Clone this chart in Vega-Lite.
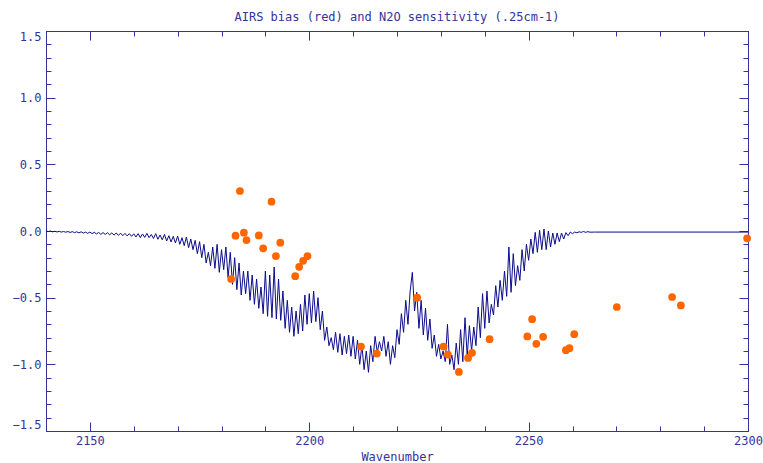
{
  "$schema": "https://vega.github.io/schema/vega-lite/v6.json",
  "width": 702,
  "height": 400,
  "autosize": "none",
  "padding": {"left": 46, "top": 31, "right": 15, "bottom": 32},
  "background": "white",
  "title": {
    "text": "AIRS bias (red) and N2O sensitivity (.25cm-1)",
    "font": "DejaVu Sans Mono",
    "fontSize": 12,
    "fontWeight": "normal",
    "color": "#33339a",
    "anchor": "middle",
    "offset": 6
  },
  "datasets": {
    "n2o": [
      {"wn": 2140.0, "s": 0.0}, {"wn": 2140.5, "s": -0.004}, {"wn": 2141.0, "s": 0.0}, {"wn": 2141.5, "s": -0.006},
      {"wn": 2142.0, "s": -0.002}, {"wn": 2142.5, "s": -0.007}, {"wn": 2143.0, "s": -0.003}, {"wn": 2143.5, "s": -0.008},
      {"wn": 2144.0, "s": -0.004}, {"wn": 2144.5, "s": -0.009}, {"wn": 2145.0, "s": -0.004}, {"wn": 2145.5, "s": -0.011},
      {"wn": 2146.0, "s": -0.005}, {"wn": 2146.5, "s": -0.012}, {"wn": 2147.0, "s": -0.006}, {"wn": 2147.5, "s": -0.014},
      {"wn": 2148.0, "s": -0.006}, {"wn": 2148.5, "s": -0.016}, {"wn": 2149.0, "s": -0.008}, {"wn": 2149.5, "s": -0.018},
      {"wn": 2150.0, "s": -0.008}, {"wn": 2150.5, "s": -0.02}, {"wn": 2151.0, "s": -0.01}, {"wn": 2151.5, "s": -0.022},
      {"wn": 2152.0, "s": -0.011}, {"wn": 2152.5, "s": -0.025}, {"wn": 2153.0, "s": -0.012}, {"wn": 2153.5, "s": -0.026},
      {"wn": 2154.0, "s": -0.013}, {"wn": 2154.5, "s": -0.028}, {"wn": 2155.0, "s": -0.014}, {"wn": 2155.5, "s": -0.031},
      {"wn": 2156.0, "s": -0.015}, {"wn": 2156.5, "s": -0.033}, {"wn": 2157.0, "s": -0.016}, {"wn": 2157.5, "s": -0.035},
      {"wn": 2158.0, "s": -0.018}, {"wn": 2158.5, "s": -0.037}, {"wn": 2159.0, "s": -0.02}, {"wn": 2159.5, "s": -0.04},
      {"wn": 2160.0, "s": -0.021}, {"wn": 2160.5, "s": -0.045}, {"wn": 2161.0, "s": -0.02}, {"wn": 2161.5, "s": -0.05},
      {"wn": 2162.0, "s": -0.022}, {"wn": 2162.5, "s": -0.048}, {"wn": 2163.0, "s": -0.018}, {"wn": 2163.5, "s": -0.05},
      {"wn": 2164.0, "s": -0.026}, {"wn": 2164.5, "s": -0.056}, {"wn": 2165.0, "s": -0.02}, {"wn": 2165.5, "s": -0.062},
      {"wn": 2166.0, "s": -0.03}, {"wn": 2166.5, "s": -0.066}, {"wn": 2167.0, "s": -0.025}, {"wn": 2167.5, "s": -0.075},
      {"wn": 2168.0, "s": -0.035}, {"wn": 2168.5, "s": -0.082}, {"wn": 2169.0, "s": -0.04}, {"wn": 2169.5, "s": -0.09},
      {"wn": 2170.0, "s": -0.038}, {"wn": 2170.5, "s": -0.1}, {"wn": 2171.0, "s": -0.05}, {"wn": 2171.5, "s": -0.11},
      {"wn": 2172.0, "s": -0.045}, {"wn": 2172.5, "s": -0.125}, {"wn": 2173.0, "s": -0.06}, {"wn": 2173.5, "s": -0.14},
      {"wn": 2174.0, "s": -0.07}, {"wn": 2174.5, "s": -0.17}, {"wn": 2175.0, "s": -0.08}, {"wn": 2175.5, "s": -0.2},
      {"wn": 2176.0, "s": -0.1}, {"wn": 2176.5, "s": -0.24}, {"wn": 2177.0, "s": -0.16}, {"wn": 2177.5, "s": -0.26},
      {"wn": 2178.0, "s": -0.12}, {"wn": 2178.5, "s": -0.28}, {"wn": 2179.0, "s": -0.1}, {"wn": 2179.5, "s": -0.31},
      {"wn": 2180.0, "s": -0.14}, {"wn": 2180.5, "s": -0.29}, {"wn": 2181.0, "s": -0.12}, {"wn": 2181.5, "s": -0.35},
      {"wn": 2182.0, "s": -0.16}, {"wn": 2182.5, "s": -0.4}, {"wn": 2183.0, "s": -0.2}, {"wn": 2183.5, "s": -0.44},
      {"wn": 2184.0, "s": -0.24}, {"wn": 2184.5, "s": -0.48}, {"wn": 2185.0, "s": -0.3}, {"wn": 2185.5, "s": -0.47},
      {"wn": 2186.0, "s": -0.3}, {"wn": 2186.5, "s": -0.52}, {"wn": 2187.0, "s": -0.33}, {"wn": 2187.5, "s": -0.55},
      {"wn": 2188.0, "s": -0.36}, {"wn": 2188.5, "s": -0.58}, {"wn": 2189.0, "s": -0.42}, {"wn": 2189.5, "s": -0.62},
      {"wn": 2190.0, "s": -0.3}, {"wn": 2190.5, "s": -0.64}, {"wn": 2191.0, "s": -0.33}, {"wn": 2191.5, "s": -0.65},
      {"wn": 2192.0, "s": -0.27}, {"wn": 2192.5, "s": -0.66}, {"wn": 2193.0, "s": -0.36}, {"wn": 2193.5, "s": -0.67},
      {"wn": 2194.0, "s": -0.45}, {"wn": 2194.5, "s": -0.73}, {"wn": 2195.0, "s": -0.52}, {"wn": 2195.5, "s": -0.76},
      {"wn": 2196.0, "s": -0.57}, {"wn": 2196.5, "s": -0.79}, {"wn": 2197.0, "s": -0.6}, {"wn": 2197.5, "s": -0.77},
      {"wn": 2198.0, "s": -0.55}, {"wn": 2198.5, "s": -0.75}, {"wn": 2199.0, "s": -0.48}, {"wn": 2199.5, "s": -0.7},
      {"wn": 2200.0, "s": -0.47}, {"wn": 2200.5, "s": -0.69}, {"wn": 2201.0, "s": -0.45}, {"wn": 2201.5, "s": -0.68},
      {"wn": 2202.0, "s": -0.5}, {"wn": 2202.5, "s": -0.74}, {"wn": 2203.0, "s": -0.6}, {"wn": 2203.5, "s": -0.82},
      {"wn": 2204.0, "s": -0.72}, {"wn": 2204.5, "s": -0.86}, {"wn": 2205.0, "s": -0.8}, {"wn": 2205.5, "s": -0.89},
      {"wn": 2206.0, "s": -0.76}, {"wn": 2206.5, "s": -0.91}, {"wn": 2207.0, "s": -0.77}, {"wn": 2207.5, "s": -0.93},
      {"wn": 2208.0, "s": -0.79}, {"wn": 2208.5, "s": -0.92}, {"wn": 2209.0, "s": -0.78}, {"wn": 2209.5, "s": -0.94},
      {"wn": 2210.0, "s": -0.79}, {"wn": 2210.5, "s": -0.96}, {"wn": 2211.0, "s": -0.82}, {"wn": 2211.5, "s": -1.0},
      {"wn": 2212.0, "s": -0.86}, {"wn": 2212.5, "s": -1.04}, {"wn": 2213.0, "s": -0.9}, {"wn": 2213.5, "s": -1.06},
      {"wn": 2214.0, "s": -0.86}, {"wn": 2214.5, "s": -0.98}, {"wn": 2215.0, "s": -0.79}, {"wn": 2215.5, "s": -0.91},
      {"wn": 2216.0, "s": -0.83}, {"wn": 2216.5, "s": -0.9}, {"wn": 2217.0, "s": -0.79}, {"wn": 2217.5, "s": -0.94},
      {"wn": 2218.0, "s": -0.83}, {"wn": 2218.5, "s": -1.0}, {"wn": 2219.0, "s": -0.86}, {"wn": 2219.5, "s": -0.95},
      {"wn": 2220.0, "s": -0.74}, {"wn": 2220.5, "s": -0.85}, {"wn": 2221.0, "s": -0.62}, {"wn": 2221.5, "s": -0.76},
      {"wn": 2222.0, "s": -0.52}, {"wn": 2222.5, "s": -0.7}, {"wn": 2223.0, "s": -0.45}, {"wn": 2223.5, "s": -0.31},
      {"wn": 2224.0, "s": -0.6}, {"wn": 2224.5, "s": -0.46}, {"wn": 2225.0, "s": -0.73}, {"wn": 2225.5, "s": -0.52},
      {"wn": 2226.0, "s": -0.78}, {"wn": 2226.5, "s": -0.58}, {"wn": 2227.0, "s": -0.82}, {"wn": 2227.5, "s": -0.66},
      {"wn": 2228.0, "s": -0.88}, {"wn": 2228.5, "s": -0.78}, {"wn": 2229.0, "s": -0.94}, {"wn": 2229.5, "s": -0.85},
      {"wn": 2230.0, "s": -0.96}, {"wn": 2230.5, "s": -0.9}, {"wn": 2231.0, "s": -0.98}, {"wn": 2231.5, "s": -0.7},
      {"wn": 2232.0, "s": -1.0}, {"wn": 2232.5, "s": -0.93}, {"wn": 2233.0, "s": -1.04}, {"wn": 2233.5, "s": -0.84},
      {"wn": 2234.0, "s": -1.0}, {"wn": 2234.5, "s": -0.74}, {"wn": 2235.0, "s": -0.98}, {"wn": 2235.5, "s": -0.65},
      {"wn": 2236.0, "s": -0.94}, {"wn": 2236.5, "s": -0.71}, {"wn": 2237.0, "s": -0.9}, {"wn": 2237.5, "s": -0.72},
      {"wn": 2238.0, "s": -0.86}, {"wn": 2238.5, "s": -0.57}, {"wn": 2239.0, "s": -0.8}, {"wn": 2239.5, "s": -0.47},
      {"wn": 2240.0, "s": -0.73}, {"wn": 2240.5, "s": -0.45}, {"wn": 2241.0, "s": -0.69}, {"wn": 2241.5, "s": -0.55},
      {"wn": 2242.0, "s": -0.63}, {"wn": 2242.5, "s": -0.41}, {"wn": 2243.0, "s": -0.57}, {"wn": 2243.5, "s": -0.37},
      {"wn": 2244.0, "s": -0.52}, {"wn": 2244.5, "s": -0.3}, {"wn": 2245.0, "s": -0.49}, {"wn": 2245.5, "s": -0.12},
      {"wn": 2246.0, "s": -0.46}, {"wn": 2246.5, "s": -0.17}, {"wn": 2247.0, "s": -0.41}, {"wn": 2247.5, "s": -0.26},
      {"wn": 2248.0, "s": -0.37}, {"wn": 2248.5, "s": -0.14}, {"wn": 2249.0, "s": -0.3}, {"wn": 2249.5, "s": -0.1},
      {"wn": 2250.0, "s": -0.22}, {"wn": 2250.5, "s": -0.06}, {"wn": 2251.0, "s": -0.17}, {"wn": 2251.5, "s": -0.01},
      {"wn": 2252.0, "s": -0.16}, {"wn": 2252.5, "s": 0.005}, {"wn": 2253.0, "s": -0.14}, {"wn": 2253.5, "s": 0.015},
      {"wn": 2254.0, "s": -0.14}, {"wn": 2254.5, "s": 0.0}, {"wn": 2255.0, "s": -0.12}, {"wn": 2255.5, "s": -0.015},
      {"wn": 2256.0, "s": -0.1}, {"wn": 2256.5, "s": -0.015}, {"wn": 2257.0, "s": -0.08}, {"wn": 2257.5, "s": -0.015},
      {"wn": 2258.0, "s": -0.06}, {"wn": 2258.5, "s": -0.012}, {"wn": 2259.0, "s": -0.035}, {"wn": 2259.5, "s": -0.008},
      {"wn": 2260.0, "s": -0.02}, {"wn": 2260.5, "s": -0.008}, {"wn": 2261.0, "s": -0.013}, {"wn": 2261.5, "s": -0.006},
      {"wn": 2262.0, "s": -0.01}, {"wn": 2262.5, "s": -0.004}, {"wn": 2263.0, "s": -0.01}, {"wn": 2263.5, "s": -0.005},
      {"wn": 2264.0, "s": -0.009}, {"wn": 2265.0, "s": -0.008}, {"wn": 2300.0, "s": -0.008}
    ],
    "bias": [
      {"wn": 2182.2, "b": -0.36}, {"wn": 2183.2, "b": -0.035}, {"wn": 2184.2, "b": 0.30}, {"wn": 2185.1, "b": -0.013},
      {"wn": 2185.7, "b": -0.068}, {"wn": 2188.5, "b": -0.033}, {"wn": 2189.5, "b": -0.13}, {"wn": 2191.4, "b": 0.22},
      {"wn": 2192.4, "b": -0.188}, {"wn": 2193.4, "b": -0.088}, {"wn": 2196.8, "b": -0.339}, {"wn": 2197.7, "b": -0.269},
      {"wn": 2198.6, "b": -0.224}, {"wn": 2199.6, "b": -0.188}, {"wn": 2211.8, "b": -0.867}, {"wn": 2215.4, "b": -0.919},
      {"wn": 2224.6, "b": -0.50}, {"wn": 2230.6, "b": -0.867}, {"wn": 2231.6, "b": -0.927}, {"wn": 2234.1, "b": -1.057},
      {"wn": 2236.2, "b": -0.952}, {"wn": 2237.1, "b": -0.914}, {"wn": 2241.1, "b": -0.811}, {"wn": 2249.7, "b": -0.791},
      {"wn": 2250.8, "b": -0.661}, {"wn": 2251.75, "b": -0.846}, {"wn": 2253.3, "b": -0.794}, {"wn": 2258.5, "b": -0.894},
      {"wn": 2259.3, "b": -0.879}, {"wn": 2260.4, "b": -0.774}, {"wn": 2270.1, "b": -0.57}, {"wn": 2282.7, "b": -0.495},
      {"wn": 2284.7, "b": -0.558}, {"wn": 2299.8, "b": -0.055}
    ]
  },
  "layer": [
    {
      "data": {"name": "n2o"},
      "mark": {"type": "line", "color": "#0c0c8c", "strokeWidth": 1, "clip": true},
      "encoding": {
        "x": {
          "field": "wn", "type": "quantitative",
          "scale": {"domain": [2140, 2300], "nice": false, "zero": false},
          "axis": {
            "orient": "bottom",
            "title": "Wavenumber",
            "values": [2150, 2160, 2170, 2180, 2190, 2200, 2210, 2220, 2230, 2240, 2250, 2260, 2270, 2280, 2290, 2300],
            "format": "d",
            "labelExpr": "datum.value % 50 === 0 ? datum.label : ''",
            "tickSize": {"condition": {"test": "datum.value % 50 === 0", "value": -9}, "value": -5},
            "labelFlush": false,
            "labelPadding": 13,
            "titlePadding": 1
          }
        },
        "y": {
          "field": "s", "type": "quantitative",
          "scale": {"domain": [-1.5, 1.5], "nice": false, "zero": false},
          "axis": {
            "orient": "left",
            "title": null,
            "values": [-1.5, -1.4, -1.3, -1.2, -1.1, -1.0, -0.9, -0.8, -0.7, -0.6, -0.5, -0.4, -0.3, -0.2, -0.1, 0, 0.1, 0.2, 0.3, 0.4, 0.5, 0.6, 0.7, 0.8, 0.9, 1.0, 1.1, 1.2, 1.3, 1.4, 1.5],
            "format": ".1f",
            "labelExpr": "abs(datum.value * 2 - round(datum.value * 2)) < 0.001 ? datum.label : ''",
            "tickSize": {"condition": {"test": "abs(datum.value * 2 - round(datum.value * 2)) < 0.001", "value": -9}, "value": -5},
            "labelPadding": 14,
            "labelFlush": true
          }
        }
      }
    },
    {
      "data": {"name": "bias"},
      "mark": {"type": "circle", "color": "#ff6600", "opacity": 1, "size": 60},
      "encoding": {
        "x": {
          "field": "wn", "type": "quantitative",
          "axis": {
            "orient": "top",
            "title": null,
            "labels": false,
            "values": [2150, 2160, 2170, 2180, 2190, 2200, 2210, 2220, 2230, 2240, 2250, 2260, 2270, 2280, 2290, 2300],
            "tickSize": {"condition": {"test": "datum.value % 50 === 0", "value": -9}, "value": -5}
          }
        },
        "y": {
          "field": "b", "type": "quantitative",
          "axis": {
            "orient": "right",
            "title": null,
            "labels": false,
            "values": [-1.5, -1.4, -1.3, -1.2, -1.1, -1.0, -0.9, -0.8, -0.7, -0.6, -0.5, -0.4, -0.3, -0.2, -0.1, 0, 0.1, 0.2, 0.3, 0.4, 0.5, 0.6, 0.7, 0.8, 0.9, 1.0, 1.1, 1.2, 1.3, 1.4, 1.5],
            "tickSize": {"condition": {"test": "abs(datum.value * 2 - round(datum.value * 2)) < 0.001", "value": -9}, "value": -5}
          }
        }
      }
    }
  ],
  "resolve": {"axis": {"x": "independent", "y": "independent"}},
  "config": {
    "view": {"stroke": "#33339a", "strokeWidth": 1},
    "axis": {
      "grid": false,
      "domainColor": "#33339a",
      "domainWidth": 1,
      "tickColor": "#33339a",
      "tickWidth": 1,
      "labelColor": "#33339a",
      "labelFont": "DejaVu Sans Mono",
      "labelFontSize": 12,
      "labelOverlap": false,
      "titleColor": "#33339a",
      "titleFont": "DejaVu Sans Mono",
      "titleFontSize": 12,
      "titleFontWeight": "normal"
    }
  }
}
